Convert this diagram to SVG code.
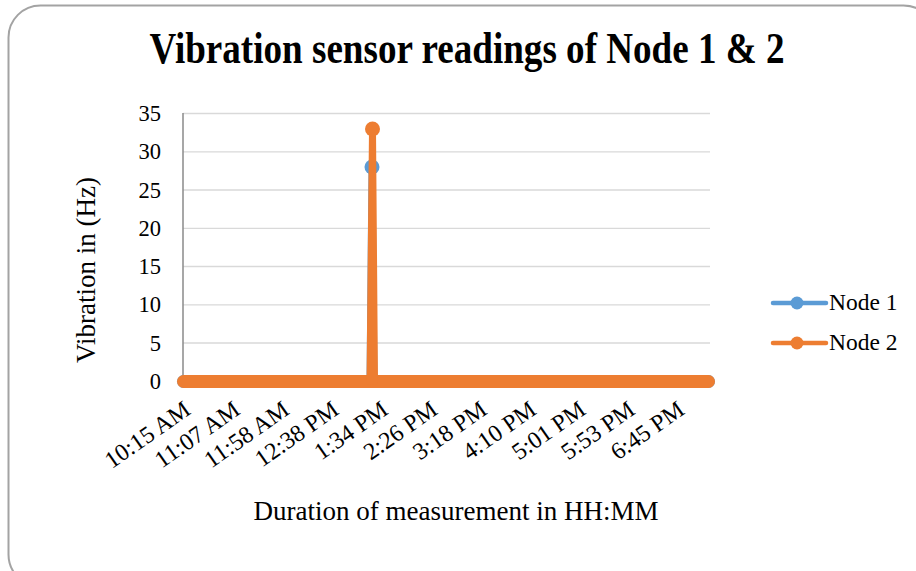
<svg xmlns="http://www.w3.org/2000/svg" width="916" height="571" viewBox="0 0 916 571">
<style>
text{font-family:"Liberation Serif","Times New Roman",serif;fill:#000}
.tick{font-size:22.5px;text-anchor:end}
.xl{font-size:24px;text-anchor:end}
.grid{stroke:#d9d9d9;stroke-width:1.3}
.n1{stroke:#5B9BD5;fill:none;stroke-linecap:round;stroke-linejoin:round}
.n2{stroke:#ED7D31;fill:none;stroke-linecap:round;stroke-linejoin:round}
</style>
<rect x="8.5" y="5.5" width="927" height="581" rx="32" fill="#fff" stroke="#a3a3a3" stroke-width="2"/>
<g id="title"><text x="467" y="63" font-size="44" font-weight="bold" text-anchor="middle" textLength="635" lengthAdjust="spacingAndGlyphs">Vibration sensor readings of Node 1 &amp; 2</text></g>
<g id="grid">
<line class="grid" x1="183" y1="113.5" x2="710" y2="113.5"/>
<line class="grid" x1="183" y1="151.8" x2="710" y2="151.8"/>
<line class="grid" x1="183" y1="190" x2="710" y2="190"/>
<line class="grid" x1="183" y1="228.3" x2="710" y2="228.3"/>
<line class="grid" x1="183" y1="266.5" x2="710" y2="266.5"/>
<line class="grid" x1="183" y1="304.8" x2="710" y2="304.8"/>
<line class="grid" x1="183" y1="343" x2="710" y2="343"/>
<line x1="183" y1="113" x2="183" y2="381" stroke="#8a8a8a" stroke-width="1.5"/>
</g>
<g id="yticks">
<text class="tick" x="161" y="121">35</text>
<text class="tick" x="161" y="159">30</text>
<text class="tick" x="161" y="198">25</text>
<text class="tick" x="161" y="236">20</text>
<text class="tick" x="161" y="274">15</text>
<text class="tick" x="161" y="312">10</text>
<text class="tick" x="161" y="351">5</text>
<text class="tick" x="161" y="389">0</text>
</g>
<g id="xticks">
<text class="xl" transform="translate(192,413) rotate(-35)">10:15 AM</text>
<text class="xl" transform="translate(241.4,413) rotate(-35)">11:07 AM</text>
<text class="xl" transform="translate(290.8,413) rotate(-35)">11:58 AM</text>
<text class="xl" transform="translate(340.2,413) rotate(-35)">12:38 PM</text>
<text class="xl" transform="translate(389.6,413) rotate(-35)">1:34 PM</text>
<text class="xl" transform="translate(439,413) rotate(-35)">2:26 PM</text>
<text class="xl" transform="translate(488.4,413) rotate(-35)">3:18 PM</text>
<text class="xl" transform="translate(537.8,413) rotate(-35)">4:10 PM</text>
<text class="xl" transform="translate(587.2,413) rotate(-35)">5:01 PM</text>
<text class="xl" transform="translate(636.6,413) rotate(-35)">5:53 PM</text>
<text class="xl" transform="translate(686,413) rotate(-35)">6:45 PM</text>
</g>
<g id="series">
<g id="node1-series">
<path class="n1" d="M183.5 381.5 H708.5" stroke-width="13"/>
<path class="n1" d="M370 381.5 L372 167 L374 381.5" stroke-width="7"/>
<circle cx="372" cy="167" r="7.5" fill="#5B9BD5"/>
</g>
<g id="node2-series">
<path class="n2" d="M183.5 381.5 H708.5" stroke-width="13"/>
<path class="n2" d="M370 381.5 L372.5 129 L374.5 381.5" stroke-width="7"/>
<circle cx="372.5" cy="129" r="7.5" fill="#ED7D31"/>
</g>
</g>
<g id="axis-titles">
<text transform="translate(95,270) rotate(-90)" font-size="27" text-anchor="middle">Vibration in (Hz)</text>
<text x="456" y="520" font-size="27" text-anchor="middle">Duration of measurement in HH:MM</text>
</g>
<g id="legend">
<g id="legend-node1">
<line x1="773" y1="303" x2="826" y2="303" stroke="#5B9BD5" stroke-width="4.5" stroke-linecap="round"/>
<circle cx="797" cy="303" r="6.5" fill="#5B9BD5"/>
<text x="829" y="310" font-size="23.5">Node 1</text>
</g>
<g id="legend-node2">
<line x1="773" y1="343" x2="826" y2="343" stroke="#ED7D31" stroke-width="4.5" stroke-linecap="round"/>
<circle cx="797" cy="343" r="6.5" fill="#ED7D31"/>
<text x="829" y="350" font-size="23.5">Node 2</text>
</g>
</g>
</svg>
